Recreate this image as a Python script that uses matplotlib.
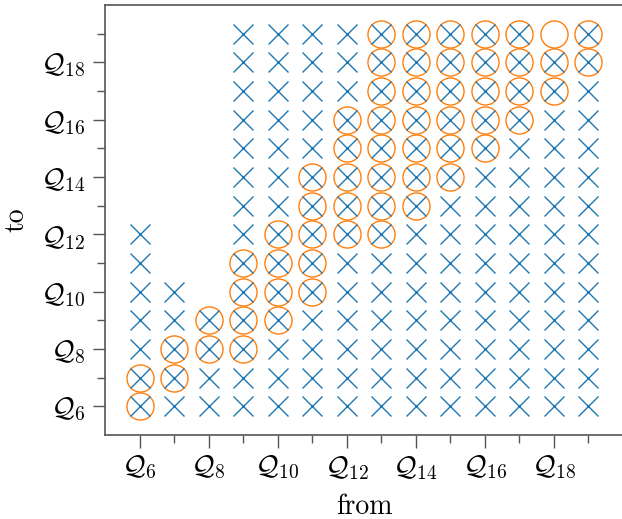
import matplotlib
matplotlib.use("Agg")
import matplotlib.pyplot as plt
from matplotlib.ticker import FixedLocator

plt.rcParams["font.family"] = "serif"
plt.rcParams["font.serif"] = ["cmr10"]
plt.rcParams["mathtext.fontset"] = "cm"
plt.rcParams["axes.formatter.use_mathtext"] = True

# "from" columns and the "to" values that carry each marker
from_levels = [6, 7, 8, 9, 10, 11, 12, 13, 14, 15, 16, 17, 18, 19]
cross_to = {
    6: [6, 7, 8, 9, 10, 11, 12],
    7: [6, 7, 8, 9, 10],
    8: [6, 7, 8, 9],
    9: list(range(6, 20)),
    10: list(range(6, 20)),
    11: list(range(6, 20)),
    12: list(range(6, 20)),
    13: list(range(6, 20)),
    14: list(range(6, 20)),
    15: list(range(6, 20)),
    16: list(range(6, 20)),
    17: list(range(6, 20)),
    18: list(range(6, 19)),
    19: list(range(6, 20)),
}
circle_to = {
    6: [6, 7],
    7: [7, 8],
    8: [8, 9],
    9: [8, 9, 10, 11],
    10: [9, 10, 11, 12],
    11: [10, 11, 12, 13, 14],
    12: [12, 13, 14, 15, 16],
    13: [12, 13, 14, 15, 16, 17, 18, 19],
    14: [13, 14, 15, 16, 17, 18, 19],
    15: [14, 15, 16, 17, 18, 19],
    16: [15, 16, 17, 18, 19],
    17: [16, 17, 18, 19],
    18: [17, 18, 19],
    19: [18, 19],
}
major_ticks = [6, 8, 10, 12, 14, 16, 18]
minor_ticks = [7, 9, 11, 13, 15, 17, 19]
tick_labels = [r"$\mathcal{Q}_{%d}$" % t for t in major_ticks]

cx = [f for f in from_levels for _ in cross_to[f]]
cy = [t for f in from_levels for t in cross_to[f]]
ox = [f for f in from_levels for _ in circle_to[f]]
oy = [t for f in from_levels for t in circle_to[f]]

fig = plt.figure(figsize=(6.22, 5.19), dpi=100)
ax = fig.add_axes([105 / 622, 84 / 519, 518 / 622, 430 / 519])

ax.plot(ox, oy, linestyle="none", marker="o", markersize=19.5,
        markerfacecolor="none", markeredgecolor="#ff7f0e", markeredgewidth=1.0)
ax.plot(cx, cy, linestyle="none", marker="x", markersize=14,
        color="#1f77b4", markeredgewidth=1.0)

ax.set_xlim(5, 20)
ax.set_ylim(5, 20)
for a in (ax.xaxis, ax.yaxis):
    a.set_major_locator(FixedLocator(major_ticks))
    a.set_minor_locator(FixedLocator(minor_ticks))
ax.set_xticklabels(tick_labels)
ax.set_yticklabels(tick_labels)
ax.tick_params(which="major", length=9, width=1.0, color="#555555", labelsize=20, pad=5)
ax.tick_params(which="minor", length=5.5, width=1.0, color="#555555")

ax.spines["right"].set_visible(False)
for s in ("left", "bottom", "top"):
    ax.spines[s].set_color("#555555")
    ax.spines[s].set_linewidth(1.2)

ax.set_xlabel("from", fontsize=20, labelpad=8)
ax.set_ylabel("to", fontsize=20, labelpad=8)

fig.savefig("out.png", dpi=100)
